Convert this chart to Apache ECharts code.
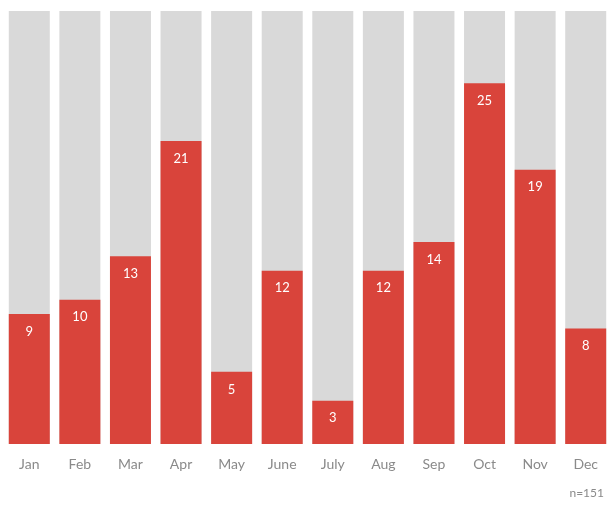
<!DOCTYPE html>
<html><head><meta charset="utf-8">
<script src="https://cdn.jsdelivr.net/npm/echarts@6/dist/echarts.min.js"></script>
<style>html,body{margin:0;padding:0;background:#fff;overflow:hidden}#c{width:611px;height:506px}</style>
</head><body><div id="c"></div>
<script>
const months = ["Jan","Feb","Mar","Apr","May","June","July","Aug","Sep","Oct","Nov","Dec"];
const counts = [9,10,13,21,5,12,3,12,14,25,19,8];
const axisMax = 30;
const note = "n=151";

const chart = echarts.init(document.getElementById('c'), null, {renderer:'canvas'});
chart.setOption({
  animation:false,
  backgroundColor:'#fff',
  grid:{left:4, right:0, top:11, bottom:62},
  xAxis:{type:'category', data:months,
    axisLine:{show:false}, axisTick:{show:false},
    axisLabel:{color:'#8a8a8a', fontSize:14, fontFamily:'Lato', margin:13}},
  yAxis:{type:'value', min:0, max:axisMax, show:false, splitLine:{show:false}},
  graphic:[{type:'text', right:7, top:487, style:{text:note, fill:'#8a8a8a', font:'12px Lato'}}],
  series:[{type:'bar', data:counts, barWidth:41,
    showBackground:true, backgroundStyle:{color:'#d9d9d9'},
    itemStyle:{color:'#d9443b'},
    label:{show:true, position:'insideTop', distance:11, color:'#fff', fontSize:13, fontFamily:'Lato'}}]
});
</script></body></html>
